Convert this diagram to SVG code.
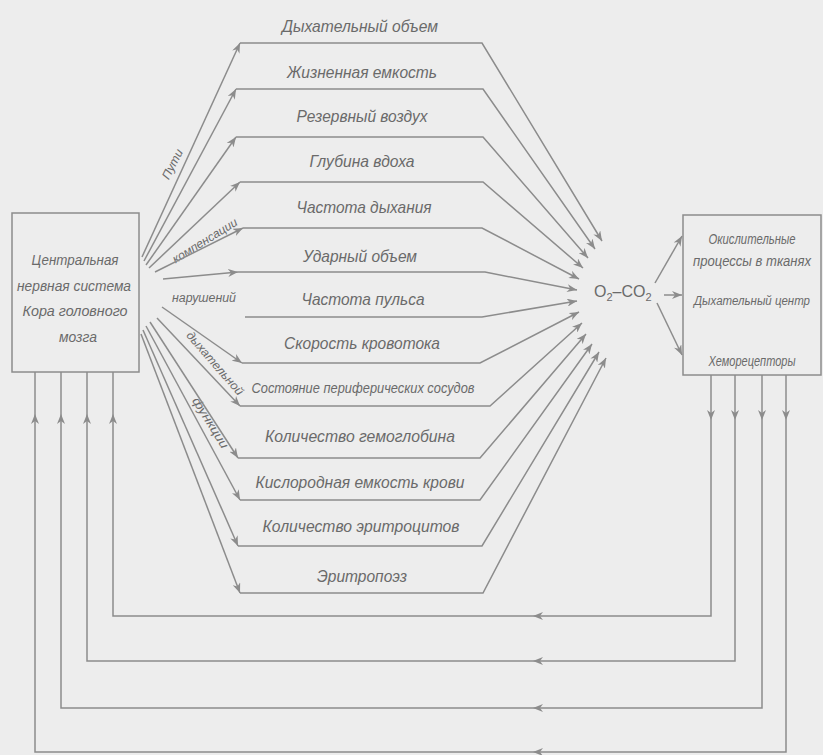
<svg xmlns="http://www.w3.org/2000/svg" width="823" height="755" viewBox="0 0 823 755">
<style>
.ln{fill:none;stroke:#8c8c8c;stroke-width:1.5}
.bx{fill:none;stroke:#8c8c8c;stroke-width:1.5}
.t{font-family:"Liberation Sans",Arial,sans-serif;font-style:italic;fill:#6a6a6a;text-anchor:middle}
.lb{font-size:17px}
.sm{font-size:14px}
.bl{font-size:15px}
.rt{font-size:12px}
.up{font-family:"Liberation Sans",Arial,sans-serif;fill:#6a6a6a;font-size:16px}
</style>
<defs>
<marker id="ah" markerUnits="userSpaceOnUse" markerWidth="11" markerHeight="8" refX="10" refY="4" orient="auto">
<path d="M0,0 L10,4 L0,8 L3,4 z" fill="#8c8c8c"/>
</marker>
</defs>
<rect width="823" height="755" fill="#ededed"/>

<g id="cns">
<rect class="bx" x="12" y="213" width="127" height="159"/>
<text class="t bl" x="75" y="265" textLength="87" lengthAdjust="spacingAndGlyphs">Центральная</text>
<text class="t bl" x="74" y="291" textLength="114" lengthAdjust="spacingAndGlyphs">нервная система</text>
<text class="t bl" x="75" y="316" textLength="105" lengthAdjust="spacingAndGlyphs">Кора головного</text>
<text class="t bl" x="78" y="342" textLength="38" lengthAdjust="spacingAndGlyphs">мозга</text>
</g>

<g id="targets">
<rect class="bx" x="683" y="215" width="138" height="160"/>
<text class="t sm" x="752" y="244" textLength="87" lengthAdjust="spacingAndGlyphs">Окислительные</text>
<text class="t sm" x="752" y="266" textLength="118" lengthAdjust="spacingAndGlyphs">процессы в тканях</text>
<text class="t" style="font-size:12.5px" x="752" y="305" textLength="116" lengthAdjust="spacingAndGlyphs">Дыхательный центр</text>
<text class="t sm" x="752" y="366" textLength="87" lengthAdjust="spacingAndGlyphs">Хеморецепторы</text>
</g>

<g id="gas">
<text class="up" x="594" y="297">O<tspan dy="4" font-size="11">2</tspan><tspan dy="-4">–CO</tspan><tspan dy="4" font-size="11">2</tspan></text>
</g>

<g id="labels">
<text class="t lb" x="360" y="32" textLength="156" lengthAdjust="spacingAndGlyphs">Дыхательный объем</text>
<text class="t lb" x="362" y="78" textLength="150" lengthAdjust="spacingAndGlyphs">Жизненная емкость</text>
<text class="t lb" x="362" y="122" textLength="131" lengthAdjust="spacingAndGlyphs">Резервный воздух</text>
<text class="t lb" x="362" y="167" textLength="105" lengthAdjust="spacingAndGlyphs">Глубина вдоха</text>
<text class="t lb" x="364" y="213" textLength="135" lengthAdjust="spacingAndGlyphs">Частота дыхания</text>
<text class="t lb" x="360" y="262" textLength="114" lengthAdjust="spacingAndGlyphs">Ударный объем</text>
<text class="t lb" x="363" y="305" textLength="123" lengthAdjust="spacingAndGlyphs">Частота пульса</text>
<text class="t lb" x="362" y="349" textLength="156" lengthAdjust="spacingAndGlyphs">Скорость кровотока</text>
<text class="t sm" x="363" y="393" textLength="223" lengthAdjust="spacingAndGlyphs">Состояние периферических сосудов</text>
<text class="t lb" x="360" y="442" textLength="190" lengthAdjust="spacingAndGlyphs">Количество гемоглобина</text>
<text class="t lb" x="360" y="488" textLength="209" lengthAdjust="spacingAndGlyphs">Кислородная емкость крови</text>
<text class="t lb" x="361" y="532" textLength="197" lengthAdjust="spacingAndGlyphs">Количество эритроцитов</text>
<text class="t lb" x="362" y="582" textLength="90" lengthAdjust="spacingAndGlyphs">Эритропоэз</text>
</g>

<g id="path-labels">
<text class="t rt" transform="translate(176,166) rotate(-63)" textLength="32" lengthAdjust="spacingAndGlyphs">Пути</text>
<text class="t rt" transform="translate(207,244) rotate(-32)" textLength="74" lengthAdjust="spacingAndGlyphs">компенсации</text>
<text class="t rt" x="204" y="302" textLength="64" lengthAdjust="spacingAndGlyphs">нарушений</text>
<text class="t rt" transform="translate(212,366) rotate(49)" textLength="80" lengthAdjust="spacingAndGlyphs">дыхательной</text>
<text class="t rt" transform="translate(207,425) rotate(58)" textLength="58" lengthAdjust="spacingAndGlyphs">функции</text>
</g>

<g id="connectors">
<path class="ln" marker-end="url(#ah)" d="M142,257 L240,43"/>
<path class="ln" marker-end="url(#ah)" d="M144,261 L236,89"/>
<path class="ln" marker-end="url(#ah)" d="M146,265 L236,137"/>
<path class="ln" marker-end="url(#ah)" d="M149,268 L240,182"/>
<path class="ln" marker-end="url(#ah)" d="M155,272 L243,228"/>
<path class="ln" marker-end="url(#ah)" d="M163,279 L238,272"/>
<path class="ln" marker-end="url(#ah)" d="M162,307 L242,363"/>
<path class="ln" marker-end="url(#ah)" d="M157,318 L240,406"/>
<path class="ln" marker-end="url(#ah)" d="M150,322 L238,458"/>
<path class="ln" marker-end="url(#ah)" d="M146,326 L240,500"/>
<path class="ln" marker-end="url(#ah)" d="M143,330 L238,546"/>
<path class="ln" marker-end="url(#ah)" d="M141,334 L240,593"/>
<path class="ln" marker-end="url(#ah)" d="M240,43 H482 L602,241"/>
<path class="ln" marker-end="url(#ah)" d="M236,89 H483 L595,249"/>
<path class="ln" marker-end="url(#ah)" d="M236,137 H483 L588,258"/>
<path class="ln" marker-end="url(#ah)" d="M240,182 H483 L583,268"/>
<path class="ln" marker-end="url(#ah)" d="M243,228 H482 L579,279"/>
<path class="ln" marker-end="url(#ah)" d="M238,272 H485 L577,290"/>
<path class="ln" marker-end="url(#ah)" d="M245,317 H482 L577,301"/>
<path class="ln" marker-end="url(#ah)" d="M242,363 H480 L579,312"/>
<path class="ln" marker-end="url(#ah)" d="M240,406 H490 L582,323"/>
<path class="ln" marker-end="url(#ah)" d="M238,458 H480 L586,334"/>
<path class="ln" marker-end="url(#ah)" d="M240,500 H480 L592,344"/>
<path class="ln" marker-end="url(#ah)" d="M238,546 H482 L599,352"/>
<path class="ln" marker-end="url(#ah)" d="M240,593 H483 L606,358"/>
<path class="ln" marker-end="url(#ah)" d="M655,283 L682,236"/>
<path class="ln" marker-end="url(#ah)" d="M664,295 L682,295"/>
<path class="ln" marker-end="url(#ah)" d="M657,303 L682,355"/>
<path class="ln" marker-end="url(#ah)" d="M711,375 V420"/>
<path class="ln" marker-end="url(#ah)" d="M711,420 V616 H533"/>
<path class="ln" marker-end="url(#ah)" d="M533,616 H113 V414"/>
<path class="ln" d="M113,414 V372"/>
<path class="ln" marker-end="url(#ah)" d="M735,375 V420"/>
<path class="ln" marker-end="url(#ah)" d="M735,420 V661 H533"/>
<path class="ln" marker-end="url(#ah)" d="M533,661 H87 V414"/>
<path class="ln" d="M87,414 V372"/>
<path class="ln" marker-end="url(#ah)" d="M762,375 V420"/>
<path class="ln" marker-end="url(#ah)" d="M762,420 V708 H533"/>
<path class="ln" marker-end="url(#ah)" d="M533,708 H61 V414"/>
<path class="ln" d="M61,414 V372"/>
<path class="ln" marker-end="url(#ah)" d="M786,375 V420"/>
<path class="ln" marker-end="url(#ah)" d="M786,420 V752 H533"/>
<path class="ln" marker-end="url(#ah)" d="M533,752 H35 V414"/>
<path class="ln" d="M35,414 V372"/>
</g>
</svg>
